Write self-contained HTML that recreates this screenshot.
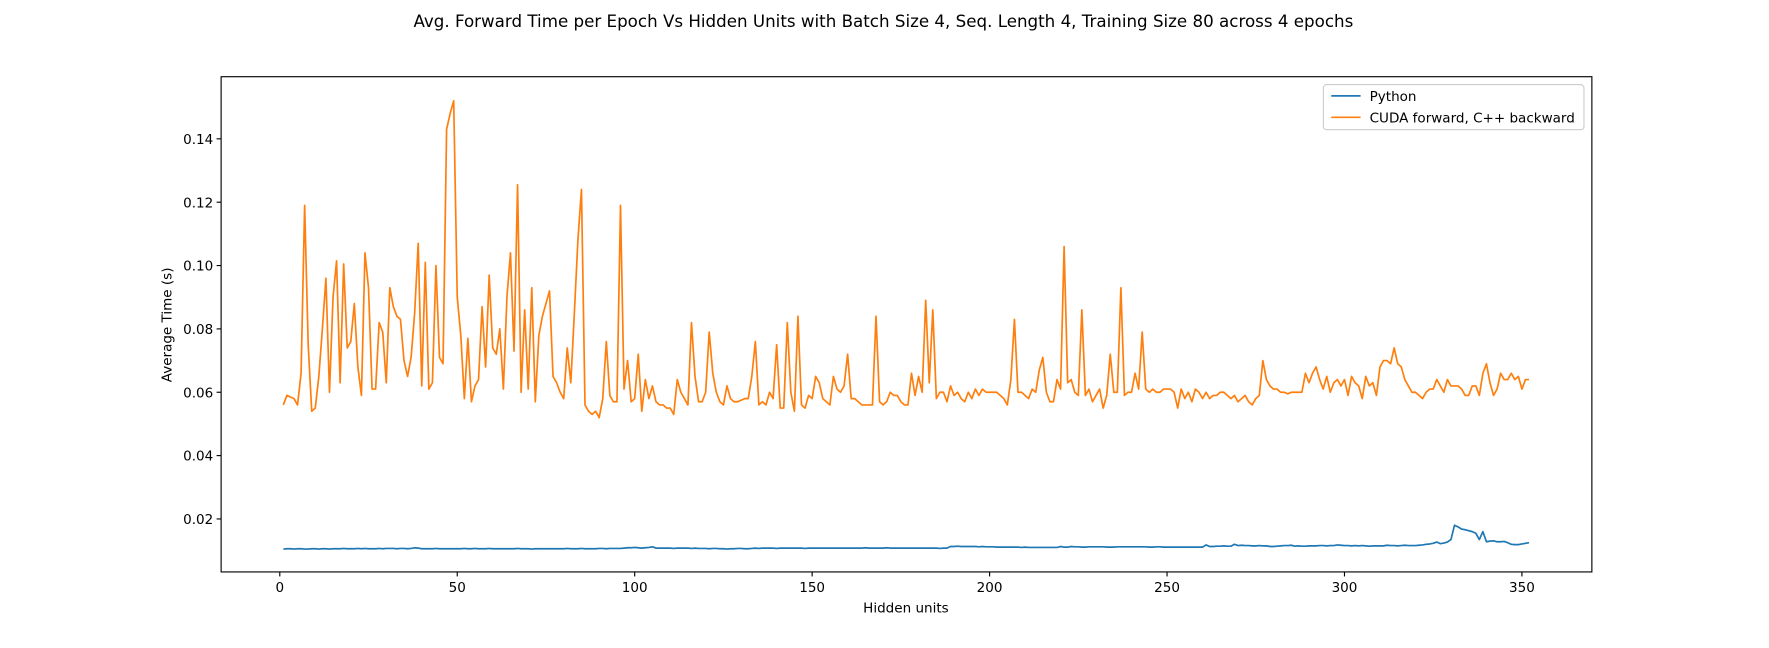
<!DOCTYPE html>
<html><head><meta charset="utf-8"><style>
html,body{margin:0;padding:0;background:#fff;}
svg text{font-family:"DejaVu Sans","Liberation Sans",sans-serif;fill:#000;}
</style></head><body>
<svg id="chart" width="1769" height="643" viewBox="0 0 1568 570" preserveAspectRatio="none" xmlns="http://www.w3.org/2000/svg">
<rect width="1568" height="570" fill="#fff"/>
<text x="783" y="24" font-size="14.8" text-anchor="middle">Avg. Forward Time per Epoch Vs Hidden Units with Batch Size 4, Seq. Length 4, Training Size 80 across 4 epochs</text>
<g id="plot"></g>
<text x="803" y="543" font-size="12" text-anchor="middle">Hidden units</text>
<text transform="translate(152,288) rotate(-90)" font-size="12" text-anchor="middle">Average Time (s)</text>
<g>
<rect x="1173" y="75" width="231" height="40" rx="3" fill="#fff" stroke="#ccc"/>
<line x1="1180" y1="85" x2="1206" y2="85" stroke="#1f77b4" stroke-width="1.5"/>
<text x="1214" y="89.5" font-size="12">Python</text>
<line x1="1180" y1="104" x2="1206" y2="104" stroke="#ff7f0e" stroke-width="1.5"/>
<text x="1214" y="108.5" font-size="12">CUDA forward, C++ backward</text>
</g>
</svg>
<script>
const xTicks=[0,50,100,150,200,250,300,350];
const yTicks=[0.02,0.04,0.06,0.08,0.10,0.12,0.14];
const yTickLabels=["0.02","0.04","0.06","0.08","0.10","0.12","0.14"];
const cudaValues=[0.056,0.059,0.0585,0.058,0.056,0.066,0.119,0.075,0.054,0.055,0.065,0.08,0.096,0.06,0.09,0.1015,0.063,0.1005,0.074,0.076,0.088,0.068,0.059,0.104,0.093,0.061,0.061,0.082,0.079,0.063,0.093,0.087,0.084,0.083,0.07,0.065,0.071,0.085,0.107,0.062,0.101,0.061,0.063,0.1,0.071,0.069,0.143,0.148,0.152,0.09,0.078,0.058,0.077,0.057,0.062,0.064,0.087,0.068,0.097,0.074,0.072,0.08,0.061,0.09,0.104,0.073,0.1255,0.06,0.086,0.061,0.093,0.057,0.078,0.084,0.088,0.092,0.065,0.063,0.06,0.058,0.074,0.063,0.085,0.108,0.124,0.056,0.054,0.053,0.054,0.052,0.058,0.076,0.059,0.057,0.057,0.119,0.061,0.07,0.057,0.058,0.072,0.054,0.064,0.058,0.062,0.057,0.056,0.056,0.055,0.055,0.053,0.064,0.06,0.058,0.056,0.082,0.065,0.057,0.057,0.06,0.079,0.066,0.06,0.057,0.056,0.062,0.058,0.057,0.057,0.0575,0.058,0.058,0.065,0.076,0.056,0.057,0.056,0.06,0.058,0.075,0.055,0.055,0.082,0.06,0.054,0.084,0.056,0.055,0.059,0.058,0.065,0.063,0.058,0.057,0.056,0.065,0.061,0.06,0.062,0.072,0.058,0.058,0.057,0.056,0.056,0.056,0.056,0.084,0.057,0.056,0.057,0.06,0.059,0.059,0.057,0.056,0.056,0.066,0.059,0.065,0.06,0.089,0.063,0.086,0.058,0.06,0.06,0.057,0.062,0.059,0.06,0.058,0.057,0.06,0.058,0.061,0.059,0.061,0.06,0.06,0.06,0.06,0.059,0.058,0.056,0.064,0.083,0.06,0.06,0.059,0.058,0.061,0.06,0.067,0.071,0.06,0.057,0.057,0.064,0.061,0.106,0.063,0.064,0.06,0.059,0.086,0.059,0.061,0.057,0.059,0.061,0.055,0.059,0.072,0.06,0.06,0.093,0.059,0.06,0.06,0.066,0.061,0.079,0.061,0.06,0.061,0.06,0.06,0.061,0.061,0.061,0.06,0.055,0.061,0.058,0.06,0.057,0.061,0.06,0.058,0.06,0.058,0.059,0.059,0.06,0.06,0.059,0.058,0.059,0.057,0.058,0.059,0.057,0.056,0.058,0.059,0.07,0.064,0.062,0.061,0.061,0.06,0.06,0.0595,0.06,0.06,0.06,0.06,0.066,0.063,0.066,0.068,0.064,0.061,0.065,0.06,0.063,0.064,0.062,0.064,0.059,0.065,0.063,0.062,0.058,0.065,0.062,0.063,0.059,0.068,0.07,0.07,0.069,0.074,0.069,0.068,0.064,0.062,0.06,0.06,0.059,0.058,0.06,0.061,0.061,0.064,0.062,0.06,0.064,0.062,0.062,0.062,0.061,0.059,0.059,0.062,0.062,0.059,0.066,0.069,0.063,0.059,0.061,0.066,0.064,0.064,0.066,0.064,0.065,0.061,0.064,0.064];
const pythonValues=[0.0105,0.0106,0.0106,0.0105,0.0106,0.0106,0.0105,0.0105,0.0106,0.0106,0.0105,0.0106,0.0106,0.0105,0.0106,0.0106,0.0106,0.0107,0.0106,0.0106,0.0106,0.0107,0.0106,0.0107,0.0106,0.0106,0.0106,0.0107,0.0106,0.0107,0.0107,0.0107,0.0106,0.0107,0.0107,0.0106,0.0107,0.0109,0.0108,0.0106,0.0106,0.0106,0.0106,0.0107,0.0106,0.0106,0.0106,0.0106,0.0106,0.0106,0.0106,0.0107,0.0106,0.0106,0.0107,0.0106,0.0106,0.0106,0.0107,0.0106,0.0106,0.0106,0.0106,0.0106,0.0106,0.0106,0.0107,0.0106,0.0106,0.0106,0.0105,0.0106,0.0106,0.0106,0.0106,0.0106,0.0106,0.0106,0.0106,0.0106,0.0107,0.0106,0.0106,0.0106,0.0107,0.0106,0.0106,0.0106,0.0106,0.0107,0.0107,0.0106,0.0107,0.0107,0.0107,0.0107,0.0108,0.0109,0.0109,0.011,0.0109,0.0108,0.0109,0.011,0.0112,0.0108,0.0108,0.0108,0.0108,0.0108,0.0107,0.0108,0.0108,0.0108,0.0108,0.0107,0.0108,0.0107,0.0107,0.0107,0.0106,0.0107,0.0107,0.0106,0.0106,0.0105,0.0106,0.0106,0.0107,0.0107,0.0106,0.0106,0.0107,0.0108,0.0107,0.0108,0.0108,0.0108,0.0108,0.0107,0.0108,0.0108,0.0108,0.0108,0.0108,0.0108,0.0108,0.0107,0.0108,0.0108,0.0108,0.0108,0.0108,0.0108,0.0108,0.0108,0.0108,0.0108,0.0108,0.0108,0.0108,0.0108,0.0108,0.0108,0.0109,0.0108,0.0108,0.0108,0.0108,0.0108,0.0109,0.0108,0.0108,0.0108,0.0108,0.0108,0.0108,0.0108,0.0108,0.0108,0.0108,0.0108,0.0108,0.0108,0.0108,0.0107,0.0108,0.0108,0.0113,0.0113,0.0114,0.0113,0.0113,0.0113,0.0113,0.0113,0.0112,0.0113,0.0112,0.0112,0.0112,0.0111,0.0111,0.0111,0.0111,0.0111,0.0111,0.0111,0.011,0.0111,0.011,0.011,0.011,0.011,0.011,0.011,0.011,0.011,0.011,0.0113,0.0111,0.0111,0.0113,0.0112,0.0112,0.0111,0.0111,0.0112,0.0112,0.0112,0.0112,0.0112,0.0111,0.0111,0.0111,0.0112,0.0112,0.0112,0.0112,0.0112,0.0112,0.0112,0.0112,0.0112,0.0111,0.0111,0.0112,0.0112,0.0111,0.0111,0.0111,0.0111,0.0111,0.0111,0.0111,0.0111,0.0111,0.0111,0.0111,0.0111,0.0118,0.0113,0.0113,0.0114,0.0114,0.0115,0.0114,0.0114,0.012,0.0116,0.0117,0.0116,0.0116,0.0115,0.0115,0.0116,0.0115,0.0115,0.0113,0.0113,0.0114,0.0115,0.0116,0.0116,0.0117,0.0114,0.0115,0.0114,0.0114,0.0115,0.0115,0.0115,0.0116,0.0116,0.0115,0.0116,0.0116,0.0118,0.0117,0.0116,0.0116,0.0115,0.0116,0.0115,0.0116,0.0115,0.0114,0.0115,0.0115,0.0115,0.0115,0.0117,0.0116,0.0116,0.0115,0.0116,0.0117,0.0116,0.0116,0.0116,0.0117,0.0118,0.012,0.0121,0.0123,0.0127,0.0122,0.0124,0.0127,0.0135,0.018,0.0175,0.0168,0.0166,0.0163,0.016,0.0155,0.0135,0.016,0.0128,0.013,0.0131,0.0128,0.0128,0.0129,0.0125,0.012,0.0119,0.0119,0.0121,0.0123,0.0125];

const L=196,T=68,W=1215,H=439;
const x0=248,pxPerX=(1349-248)/350;
const yZero=516.2,pxPerY=2808;
const sx=v=>x0+v*pxPerX;
const sy=v=>yZero-v*pxPerY;
const NS="http://www.w3.org/2000/svg";
const g=document.getElementById('plot');
function mk(tag,attrs){const e=document.createElementNS(NS,tag);for(const k in attrs)e.setAttribute(k,attrs[k]);g.appendChild(e);return e;}

function series(vals,color,name){
  const d=vals.map((v,i)=>(i?'L':'M')+sx(i+1).toFixed(2)+','+sy(v).toFixed(2)).join('');
  const p=mk('path',{d:d,fill:'none',stroke:color,'stroke-width':1.5,'stroke-linejoin':'round'});
  
  
}
series(pythonValues,'#1f77b4','python-line');
series(cudaValues,'#ff7f0e','cuda-line');

const frame=mk('rect',{x:L,y:T,width:W,height:H,fill:'none',stroke:'#000','stroke-width':1});



xTicks.forEach(t=>{
  const x=sx(t);
  const tk=mk('line',{x1:x,y1:T+H,x2:x,y2:T+H+4,stroke:'#000'});
  
  
  const tx=mk('text',{x:x,y:T+H+18,'font-size':12,'text-anchor':'middle'});
  tx.textContent=String(t);
  
  
});
yTicks.forEach((t,i)=>{
  const y=sy(t);
  const tk=mk('line',{x1:L-4,y1:y,x2:L,y2:y,stroke:'#000'});
  
  
  const tx=mk('text',{x:L-7,y:y+4.5,'font-size':12,'text-anchor':'end'});
  tx.textContent=yTickLabels[i];
  
  
});
</script>
</body></html>
